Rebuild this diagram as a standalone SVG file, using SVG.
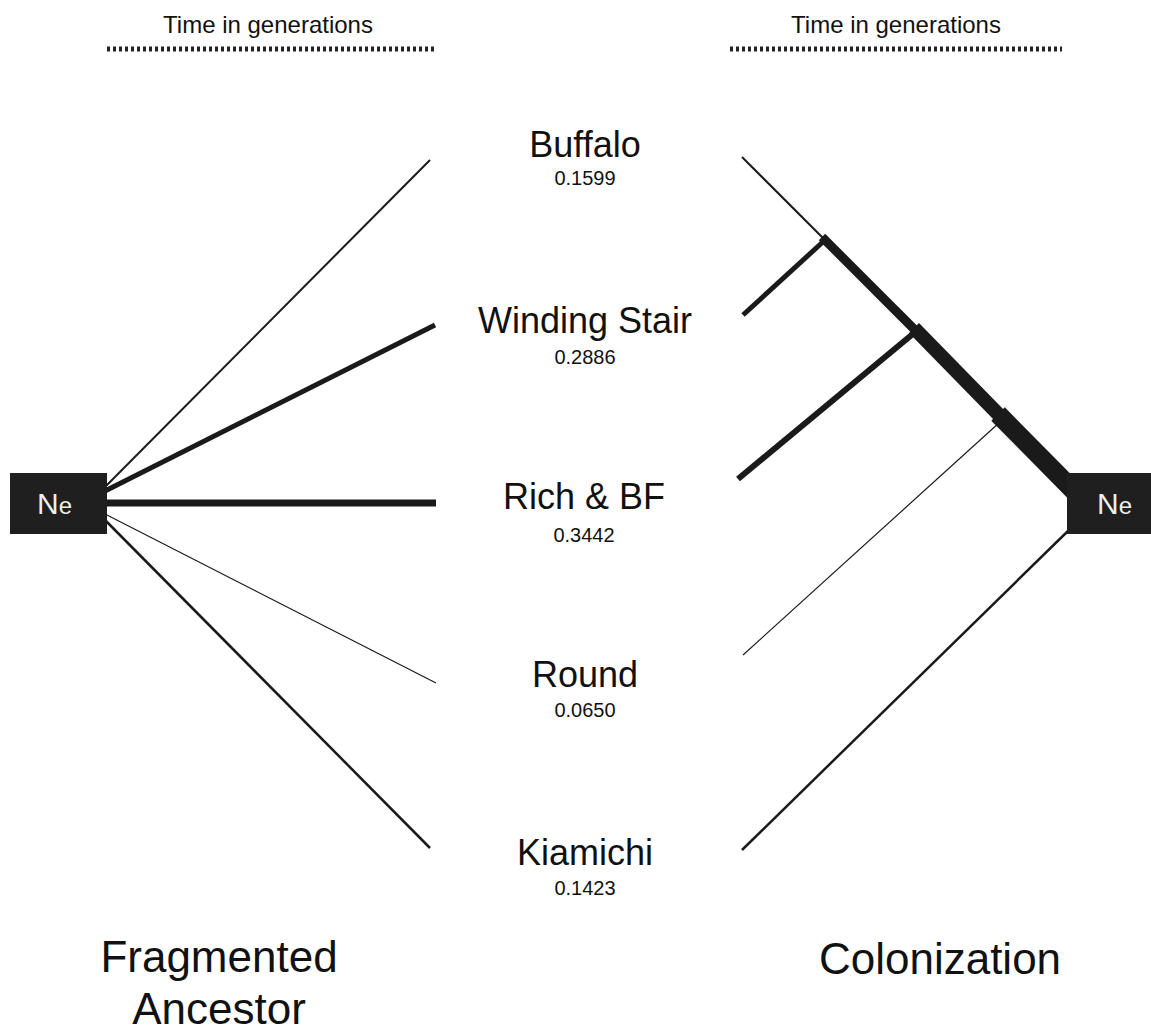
<svg xmlns="http://www.w3.org/2000/svg" width="1151" height="1034" viewBox="0 0 1151 1034">
<style>
text{font-family:"Liberation Sans",Arial,sans-serif;fill:#111}
.name{font-size:36px;text-anchor:middle}
.val{font-size:20px;text-anchor:middle}
.head{font-size:24px;text-anchor:middle}
.big{font-size:44px;text-anchor:middle}
.dots{stroke:#222;stroke-width:5;stroke-dasharray:3 3}
.ln{stroke:#1a1a1a;fill:none;stroke-linecap:butt}
.box{fill:#1f1f1f}
.ne{fill:#eeeeee;font-size:30px}
.ne2{fill:#eeeeee;font-size:24px}
</style>
<rect width="1151" height="1034" fill="#fff"/>
<g id="headers">
<text class="head" x="268" y="33">Time in generations</text>
<line class="dots" x1="107" y1="49" x2="437" y2="49"/>
<text class="head" x="896" y="33">Time in generations</text>
<line class="dots" x1="730" y1="49" x2="1062" y2="49"/>
</g>
<g id="connectors">
<line class="ln" x1="105" y1="487" x2="430" y2="160" stroke-width="2"/>
<line class="ln" x1="105" y1="491" x2="435" y2="325" stroke-width="5"/>
<line class="ln" x1="105" y1="503" x2="436" y2="503" stroke-width="7"/>
<line class="ln" x1="105" y1="514" x2="436" y2="683" stroke-width="1.2"/>
<line class="ln" x1="105" y1="520" x2="430" y2="848" stroke-width="2.5"/>
<line class="ln" x1="742" y1="157" x2="825" y2="240" stroke-width="2"/>
<line class="ln" x1="822" y1="237" x2="916" y2="331" stroke-width="9"/>
<line class="ln" x1="914" y1="328" x2="1001" y2="417" stroke-width="14"/>
<line class="ln" x1="998" y1="414" x2="1074" y2="491" stroke-width="19"/>
<line class="ln" x1="825" y1="240" x2="743" y2="315" stroke-width="5"/>
<line class="ln" x1="914" y1="333" x2="738" y2="479" stroke-width="6"/>
<line class="ln" x1="1000" y1="422" x2="743" y2="655" stroke-width="1.2"/>
<line class="ln" x1="1069" y1="530" x2="742" y2="850" stroke-width="2.5"/>
</g>
<g id="ne-left">
<rect class="box" x="10" y="473" width="97" height="61"/>
<text x="37" y="514"><tspan class="ne">N</tspan><tspan class="ne2">e</tspan></text>
</g>
<g id="ne-right">
<rect class="box" x="1067" y="473" width="84" height="61"/>
<text x="1097" y="514"><tspan class="ne">N</tspan><tspan class="ne2">e</tspan></text>
</g>
<g id="buffalo">
<text class="name" x="585" y="157">Buffalo</text>
<text class="val" x="585" y="185">0.1599</text>
</g>
<g id="winding-stair">
<text class="name" x="585" y="333">Winding Stair</text>
<text class="val" x="585" y="364">0.2886</text>
</g>
<g id="rich-bf">
<text class="name" x="584" y="509">Rich &amp; BF</text>
<text class="val" x="584" y="542">0.3442</text>
</g>
<g id="round">
<text class="name" x="585" y="687">Round</text>
<text class="val" x="585" y="717">0.0650</text>
</g>
<g id="kiamichi">
<text class="name" x="585" y="865">Kiamichi</text>
<text class="val" x="585" y="895">0.1423</text>
</g>
<g id="titles">
<text class="big" x="219" y="972">Fragmented</text>
<text class="big" x="219" y="1024">Ancestor</text>
<text class="big" x="940" y="974">Colonization</text>
</g>
</svg>
